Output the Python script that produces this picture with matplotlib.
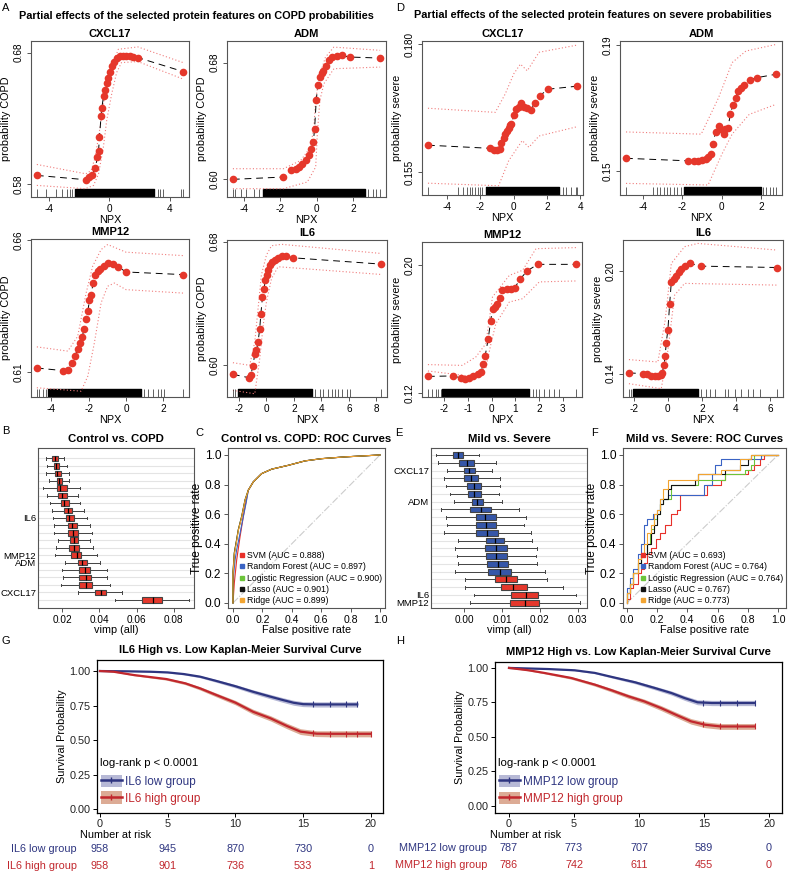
import numpy as np
import matplotlib
matplotlib.use("Agg")
import matplotlib.pyplot as plt
from matplotlib.lines import Line2D
from matplotlib.patches import Patch

plt.rcParams['font.family'] = ['Liberation Sans', 'DejaVu Sans']

W, H = 790, 872
RED = '#e5372b'
BLUE = '#3556a8'
NAVY = '#2e3580'
KMRED = '#c1272d'
GREY = '#555555'

# ---------------- A: partial effects on COPD ----------------
copd_cxcl17_x = [-4.8, -1.55, -1.33, -1.15, -0.93, -0.78, -0.71, -0.65, -0.54, -0.5, -0.37, -0.28, -0.15,
                 -0.06, 0.05, 0.2, 0.31, 0.49, 0.7, 0.92, 1.14, 1.36, 1.58, 1.9, 4.9]
copd_cxcl17_y = [0.5868, 0.5835, 0.5855, 0.5868, 0.5923, 0.6007, 0.6052, 0.6158, 0.6321, 0.6377, 0.6473,
                 0.6515, 0.6573, 0.6606, 0.6649, 0.6699, 0.6729, 0.6762, 0.6772, 0.6777, 0.6777, 0.6775,
                 0.677, 0.6762, 0.6656]
copd_cxcl17_ux = [-4.8, -1.55, -1.2, -0.93, -0.61, -0.28, 0.16, 0.6, 1.9, 4.9]
copd_cxcl17_uy = [0.5951, 0.588, 0.5905, 0.6007, 0.6233, 0.6485, 0.6687, 0.6825, 0.6843, 0.6724]
copd_cxcl17_lx = [-4.8, -1.59, -1.04, -0.71, -0.39, -0.17, 0.16, 0.49, 0.81, 1.9, 4.9]
copd_cxcl17_ly = [0.5792, 0.5767, 0.5792, 0.588, 0.6082, 0.6284, 0.6485, 0.6649, 0.6724, 0.6732, 0.6599]
copd_cxcl17_rug = [-4.8, -4.21, -3.55, -3.12, -2.79, -2.57, -2.46, 3.22, 3.39, 3.55, 4.75, 4.9]
copd_cxcl17_band = (-2.29, 3.0)

copd_adm_x = [-4.6, -1.82, -1.42, -1.15, -0.96, -0.78, -0.6, -0.42, -0.29, -0.18, -0.11, -0.02, 0.07, 0.18,
              0.27, 0.36, 0.49, 0.67, 0.85, 1.13, 1.4, 1.82, 3.49]
copd_adm_y = [0.600, 0.6016, 0.6062, 0.6073, 0.6085, 0.6107, 0.613, 0.6165, 0.621, 0.6256, 0.6347, 0.6542,
              0.6649, 0.6702, 0.6729, 0.6743, 0.6775, 0.6816, 0.6839, 0.6848, 0.685, 0.6839, 0.6832]
copd_adm_ux = [-4.6, -1.82, -0.87, -0.33, -0.15, -0.05, 0.13, 0.49, 0.95, 3.49]
copd_adm_uy = [0.6073, 0.6073, 0.613, 0.6222, 0.6359, 0.6542, 0.6702, 0.6839, 0.6907, 0.6885]
copd_adm_lx = [-4.6, -1.82, -0.51, -0.05, 0.04, 0.18, 0.4, 0.95, 3.49]
copd_adm_ly = [0.5936, 0.5936, 0.5982, 0.6085, 0.6313, 0.6542, 0.6656, 0.6759, 0.677]
copd_adm_rug = [-4.6, -4.5, -4.15, -3.9, -3.42, -3.15, 2.85, 3.09, 3.27, 3.49]
copd_adm_band = (-2.96, 2.67)

copd_mmp12_x = [-4.76, -3.37, -3.11, -2.9, -2.72, -2.58, -2.43, -2.36, -2.22, -2.13, -2.04, -1.95, -1.86,
                -1.76, -1.65, -1.51, -1.37, -1.19, -0.94, -0.71, -0.41, 0.0, 3.05]
copd_mmp12_y = [0.6116, 0.6106, 0.611, 0.6135, 0.6163, 0.6188, 0.6211, 0.6233, 0.6264, 0.63, 0.6331, 0.6373,
                0.6394, 0.6438, 0.647, 0.6485, 0.6491, 0.6502, 0.6514, 0.651, 0.6499, 0.648, 0.647]
copd_mmp12_ux = [-4.76, -3.11, -2.58, -2.13, -1.78, -1.33, -0.98, 0.0, 3.05]
copd_mmp12_uy = [0.6196, 0.618, 0.6236, 0.64, 0.6502, 0.6565, 0.6584, 0.6555, 0.6542]
copd_mmp12_lx = [-4.76, -2.4, -2.04, -1.69, -1.33, -0.98, -0.62, 0.0, 3.05]
copd_mmp12_ly = [0.6041, 0.6028, 0.6085, 0.6211, 0.6363, 0.6426, 0.6438, 0.6413, 0.64]
copd_mmp12_rug = [-4.76, -4.62, -4.44, -4.26, 0.98, 1.15, 1.42, 1.69, 1.87, 2.04, 3.05]
copd_mmp12_band = (-4.17, 0.8)

copd_il6_x = [-2.44, -1.29, -1.15, -0.98, -0.85, -0.73, -0.61, -0.49, -0.41, -0.29, -0.2, -0.07, 0.02, 0.12,
              0.27, 0.41, 0.61, 0.85, 1.1, 1.39, 1.9, 8.34]
copd_il6_y = [0.5942, 0.592, 0.5935, 0.5996, 0.6076, 0.6097, 0.6151, 0.6238, 0.6329, 0.6443, 0.6493, 0.6551,
              0.6584, 0.6616, 0.6649, 0.6666, 0.6681, 0.6696, 0.6705, 0.6709, 0.6696, 0.6655]
copd_il6_ux = [-2.44, -1.22, -0.85, -0.61, -0.37, 0.0, 0.37, 1.1, 8.34]
copd_il6_uy = [0.6017, 0.600, 0.6151, 0.6368, 0.6584, 0.6714, 0.6774, 0.6783, 0.6724]
copd_il6_lx = [-2.44, -0.85, -0.49, -0.24, 0.0, 0.37, 0.85, 8.34]
copd_il6_ly = [0.5838, 0.5816, 0.6043, 0.6259, 0.6411, 0.6562, 0.6638, 0.6588]
copd_il6_rug = [-2.44, -2.32, 3.54, 3.9, 4.15, 4.51, 4.76, 5.0, 5.24, 5.49, 5.85, 6.1, 8.34]
copd_il6_band = (-2.07, 3.29)

# ---------------- D: partial effects on severe ----------------
sev_cxcl17_x = [-5.15, -1.45, -1.21, -1.01, -0.85, -0.75, -0.61, -0.51, -0.4, -0.3, -0.2, -0.14, 0.02, 0.16,
                0.3, 0.44, 0.59, 0.77, 1.01, 1.27, 1.56, 2.04, 3.8]
sev_cxcl17_y = [0.1603, 0.1597, 0.1594, 0.1594, 0.1595, 0.1608, 0.1617, 0.1625, 0.1631, 0.1636, 0.1642, 0.1645,
                0.1662, 0.1673, 0.1678, 0.1686, 0.1678, 0.1675, 0.1672, 0.1686, 0.1699, 0.1712, 0.1718]
sev_cxcl17_ux = [-5.15, -1.11, -0.51, 0.0, 0.4, 0.81, 1.52, 3.8]
sev_cxcl17_uy = [0.1675, 0.1667, 0.1703, 0.1742, 0.1761, 0.1748, 0.1784, 0.1798]
sev_cxcl17_lx = [-5.15, -0.91, -0.3, 0.51, 0.91, 1.52, 3.8]
sev_cxcl17_ly = [0.1529, 0.1524, 0.1573, 0.1612, 0.1599, 0.1621, 0.1639]
sev_cxcl17_rug = [-5.15, -3.33, -3.03, -2.83, -2.63, -2.48, -2.32, -2.16, -2.02, -1.88, 2.93, 3.13, 3.43,
                  3.74, 3.8]
sev_cxcl17_band = (-1.68, 2.73)

sev_adm_x = [-4.87, -1.74, -1.44, -1.22, -1.01, -0.83, -0.7, -0.56, -0.47, -0.31, -0.17, -0.09, 0.09, 0.17,
             0.31, 0.43, 0.56, 0.7, 0.83, 0.96, 1.13, 1.43, 1.77, 2.75]
sev_adm_y = [0.154, 0.1532, 0.1532, 0.153, 0.1534, 0.1539, 0.1545, 0.1553, 0.1587, 0.1624, 0.1643, 0.1633,
             0.1619, 0.1633, 0.1638, 0.168, 0.171, 0.1733, 0.1755, 0.1763, 0.1774, 0.179, 0.1797, 0.1808]
sev_adm_ux = [-4.87, -1.05, -0.17, 0.52, 1.22, 2.75]
sev_adm_uy = [0.1624, 0.1617, 0.1733, 0.1845, 0.1882, 0.1903]
sev_adm_lx = [-4.87, -0.7, 0.0, 0.52, 1.39, 2.75]
sev_adm_ly = [0.146, 0.1455, 0.1553, 0.1617, 0.168, 0.1712]
sev_adm_rug = [-4.87, -3.48, -3.3, -3.13, -2.96, -2.78, -2.61, -2.43, -2.26, -2.09, 2.09, 2.26, 2.43, 2.61,
               2.75]
sev_adm_band = (-1.91, 2.0)

sev_mmp12_x = [-2.68, -1.61, -1.3, -1.13, -0.94, -0.77, -0.59, -0.45, -0.35, -0.27, -0.14, -0.04, 0.04, 0.15,
               0.25, 0.35, 0.46, 0.63, 0.82, 0.97, 1.2, 1.49, 1.94, 3.56]
sev_mmp12_y = [0.1304, 0.1307, 0.1294, 0.129, 0.1294, 0.1304, 0.1317, 0.1332, 0.1384, 0.1432, 0.154, 0.1649,
               0.1728, 0.1739, 0.1756, 0.1797, 0.1843, 0.185, 0.1854, 0.1858, 0.1912, 0.1964, 0.2006, 0.2006]
sev_mmp12_ux = [-2.68, -1.23, -0.66, -0.24, 0.04, 0.75, 1.31, 1.87, 3.56]
sev_mmp12_uy = [0.1378, 0.1373, 0.1426, 0.1509, 0.1802, 0.1937, 0.1969, 0.2104, 0.2111]
sev_mmp12_lx = [-2.68, -0.94, -0.24, -0.03, 0.18, 0.75, 1.31, 2.01, 3.56]
sev_mmp12_ly = [0.1338, 0.1306, 0.1358, 0.1505, 0.1634, 0.177, 0.1791, 0.1896, 0.1902]
sev_mmp12_rug = [-2.68, -2.49, -2.35, -2.24, -2.14, 1.73, 1.87, 2.01, 2.23, 2.44, 2.65, 2.86, 3.56]
sev_mmp12_band = (-2.07, 1.59)

sev_il6_x = [-2.29, -1.47, -1.22, -0.98, -0.78, -0.59, -0.43, -0.33, -0.24, -0.16, -0.1, 0.0, 0.1, 0.2, 0.35,
             0.49, 0.63, 0.78, 0.98, 1.27, 1.92, 6.41]
sev_il6_y = [0.1404, 0.14, 0.1396, 0.1386, 0.1384, 0.1384, 0.139, 0.1404, 0.1449, 0.1502, 0.158, 0.1658,
             0.1806, 0.1937, 0.1951, 0.1973, 0.1992, 0.201, 0.2029, 0.2045, 0.2029, 0.2021]
sev_il6_ux = [-2.29, -0.59, -0.16, 0.2, 0.98, 1.76, 6.41]
sev_il6_uy = [0.1482, 0.1468, 0.1713, 0.2045, 0.2143, 0.2162, 0.2123]
sev_il6_lx = [-2.29, -0.39, 0.0, 0.39, 0.98, 6.41]
sev_il6_ly = [0.1341, 0.1312, 0.1537, 0.1859, 0.1928, 0.1918]
sev_il6_rug = [-2.29, -2.16, 1.96, 2.25, 2.45, 2.75, 3.33, 3.53, 3.92, 4.31, 4.71, 5.0, 5.39, 6.41]
sev_il6_band = (-2.06, 1.76)

# ---------------- B / E: variable importance ----------------
b_wlo = [0.0112, 0.0118, 0.0114, 0.013, 0.010, 0.0118, 0.0136, 0.0148, 0.0154, 0.0159, 0.0159, 0.018, 0.0166,
         0.0162, 0.0216, 0.020, 0.0207, 0.0195, 0.0288, 0.0484]
b_q1 = [0.0148, 0.0157, 0.0162, 0.0171, 0.0175, 0.018, 0.0195, 0.0213, 0.022, 0.0234, 0.0234, 0.0243, 0.0239,
        0.0248, 0.0288, 0.0291, 0.0293, 0.0293, 0.0377, 0.0631]
b_med = [0.0162, 0.0168, 0.0175, 0.0186, 0.0189, 0.0198, 0.0213, 0.023, 0.0239, 0.0252, 0.0261, 0.0264, 0.0266,
         0.0279, 0.0309, 0.0323, 0.0329, 0.0329, 0.0407, 0.0686]
b_q3 = [0.0177, 0.0186, 0.0193, 0.020, 0.0225, 0.0225, 0.0239, 0.0255, 0.0264, 0.028, 0.0288, 0.0288, 0.0293,
        0.0302, 0.0336, 0.035, 0.0356, 0.0361, 0.0436, 0.0738]
b_whi = [0.0211, 0.0225, 0.0238, 0.0239, 0.0297, 0.0284, 0.0297, 0.0318, 0.0332, 0.035, 0.0363, 0.035, 0.0368,
         0.0389, 0.0404, 0.044, 0.0443, 0.0457, 0.0524, 0.0883]
b_labels = {9: 'IL6', 14: 'MMP12', 15: 'ADM', 19: 'CXCL17'}

e_wlo = [-0.0074, -0.0068, -0.0044, -0.0054, -0.0047, -0.0037, -0.0026, -0.0061, -0.0048, -0.0044, -0.0053,
         -0.0015, -0.0025, -0.0019, -0.0015, -0.0024, 0.0003, 0.0003, 0.0025, 0.0016]
e_q1 = [-0.003, -0.0012, 0.0, 0.0001, 0.0007, 0.0011, 0.002, 0.0017, 0.0031, 0.0032, 0.0032, 0.0057, 0.0055,
        0.0058, 0.0061, 0.0064, 0.0082, 0.0097, 0.0124, 0.0121]
e_med = [-0.0015, 0.0007, 0.0013, 0.0018, 0.0025, 0.0026, 0.0035, 0.0044, 0.0055, 0.0057, 0.0061, 0.0082,
         0.0083, 0.0084, 0.0089, 0.0096, 0.0111, 0.013, 0.0163, 0.0161]
e_q3 = [-0.0002, 0.0027, 0.0029, 0.0038, 0.0044, 0.0045, 0.0051, 0.007, 0.0084, 0.0083, 0.009, 0.0106, 0.0112,
        0.0112, 0.0115, 0.0125, 0.0139, 0.0165, 0.0196, 0.0198]
e_whi = [0.004, 0.0083, 0.0073, 0.0095, 0.0095, 0.0092, 0.0099, 0.0146, 0.0162, 0.0159, 0.0176, 0.018, 0.0191,
         0.0189, 0.0191, 0.0213, 0.0218, 0.026, 0.0296, 0.0305]
e_labels = {3: 'CXCL17', 7: 'ADM', 19: 'IL6', 20: 'MMP12'}
e_n_blue = 16

# ---------------- C / F: ROC curves ----------------
roc_models = ['SVM', 'Random Forest', 'Logistic Regression', 'Lasso', 'Ridge']
roc_colors = ['#e8302a', '#3a63c4', '#6cc43a', '#111111', '#f2a431']
c_auc = ['0.888', '0.897', '0.900', '0.901', '0.899']
f_auc = ['0.693', '0.764', '0.764', '0.767', '0.773']

c_tail_fpr = [0.104, 0.138, 0.195, 0.263, 0.376, 0.49, 0.603, 0.762, 0.875, 1.0]
c_tail_tpr = [0.762, 0.818, 0.874, 0.904, 0.93, 0.96, 0.975, 0.987, 0.993, 1.0]
c_head_fpr = [[0, 0.009, 0.025, 0.048, 0.07, 0.082],
              [0, 0.005, 0.014, 0.025, 0.048, 0.07, 0.09],
              [0, 0, 0.009, 0.025, 0.036, 0.059, 0.082],
              [0, 0, 0.009, 0.025, 0.036, 0.059, 0.082],
              [0, 0, 0.009, 0.025, 0.036, 0.059, 0.082]]
c_head_tpr = [[0, 0.135, 0.29, 0.448, 0.583, 0.65],
              [0, 0.2, 0.29, 0.36, 0.47, 0.583, 0.68],
              [0, 0.2, 0.336, 0.426, 0.493, 0.583, 0.695],
              [0, 0.21, 0.34, 0.43, 0.495, 0.585, 0.697],
              [0, 0.19, 0.33, 0.42, 0.49, 0.58, 0.694]]

f_fpr = [[0, 0, 0.02, 0.04, 0.07, 0.09, 0.11, 0.13, 0.16, 0.19, 0.22, 0.25, 0.29, 0.33, 0.35, 0.53, 0.62, 0.65,
          0.8, 0.84, 0.88, 0.91, 1.0],
         [0, 0, 0.02, 0.04, 0.07, 0.09, 0.11, 0.13, 0.17, 0.2, 0.22, 0.27, 0.49, 0.51, 0.56, 0.58, 0.62, 0.87,
          0.89, 1.0],
         [0, 0, 0.02, 0.04, 0.07, 0.09, 0.13, 0.15, 0.16, 0.18, 0.2, 0.22, 0.24, 0.29, 0.45, 0.47, 0.65, 0.78,
          0.82, 0.84, 1.0],
         [0, 0, 0.02, 0.04, 0.07, 0.09, 0.13, 0.16, 0.18, 0.2, 0.22, 0.24, 0.27, 0.29, 0.45, 0.47, 0.65, 0.75,
          0.8, 0.82, 1.0],
         [0, 0, 0.02, 0.04, 0.07, 0.09, 0.11, 0.13, 0.16, 0.18, 0.2, 0.22, 0.24, 0.27, 0.47, 0.62, 0.75, 0.82,
          1.0]]
f_tpr = [[0, 0.03, 0.1, 0.13, 0.2, 0.23, 0.27, 0.33, 0.37, 0.43, 0.47, 0.53, 0.6, 0.63, 0.73, 0.8, 0.83, 0.87,
          0.9, 0.93, 0.97, 1.0, 1.0],
         [0, 0.1, 0.17, 0.23, 0.33, 0.4, 0.53, 0.57, 0.6, 0.63, 0.7, 0.73, 0.73, 0.8, 0.87, 0.93, 0.97, 0.97,
          1.0, 1.0],
         [0, 0.07, 0.13, 0.2, 0.27, 0.33, 0.4, 0.47, 0.5, 0.57, 0.6, 0.67, 0.7, 0.8, 0.8, 0.83, 0.87, 0.9, 0.93,
          1.0, 1.0],
         [0, 0.07, 0.13, 0.2, 0.27, 0.33, 0.4, 0.47, 0.53, 0.6, 0.67, 0.7, 0.77, 0.8, 0.83, 0.87, 0.9, 0.93,
          0.97, 1.0, 1.0],
         [0, 0.07, 0.13, 0.2, 0.3, 0.33, 0.4, 0.47, 0.53, 0.6, 0.63, 0.7, 0.77, 0.83, 0.87, 0.9, 0.97, 1.0, 1.0]]

# ---------------- G / H: Kaplan-Meier ----------------
g_low_t = [0, 2, 3.7, 5, 6.2, 7.4, 8.6, 10, 11.3, 12.6, 13.5, 14.3, 15, 16, 17, 18, 19]
g_low_s = [1.0, 0.998, 0.995, 0.99, 0.978, 0.959, 0.928, 0.89, 0.85, 0.814, 0.79, 0.77, 0.76, 0.758, 0.758,
           0.758, 0.758]
g_low_ci = [0, 0.001, 0.003, 0.004, 0.006, 0.008, 0.01, 0.012, 0.014, 0.016, 0.017, 0.018, 0.018, 0.019, 0.019,
            0.019, 0.019]
g_high_t = [0, 1, 2.5, 4.9, 6.3, 7.4, 8.6, 10, 11.3, 12.6, 13.8, 14.8, 16, 17, 18, 19, 20]
g_high_s = [1.0, 0.995, 0.971, 0.942, 0.911, 0.874, 0.826, 0.771, 0.705, 0.657, 0.602, 0.561, 0.546, 0.545,
            0.545, 0.545, 0.545]
g_high_ci = [0, 0.002, 0.005, 0.008, 0.01, 0.012, 0.014, 0.016, 0.018, 0.019, 0.02, 0.021, 0.021, 0.022, 0.022,
             0.022, 0.022]
g_low_cens = [15.7, 17, 18.2, 19]
g_high_cens = [15.7, 17, 18.2, 19, 20]
g_risk_low = [958, 945, 870, 730, 0]
g_risk_high = [958, 901, 736, 533, 1]

h_low_t = [0, 3, 5.05, 6.6, 7.9, 9.7, 11.2, 12.5, 13.5, 14.5, 15.6, 17, 18.9]
h_low_s = [1.0, 0.992, 0.983, 0.964, 0.935, 0.896, 0.855, 0.818, 0.782, 0.751, 0.746, 0.746, 0.746]
h_low_ci = [0, 0.002, 0.004, 0.006, 0.008, 0.011, 0.013, 0.015, 0.017, 0.018, 0.019, 0.019, 0.019]
h_high_t = [0, 1.5, 2.7, 4.8, 6.6, 7.9, 9.2, 10.4, 11.7, 13, 14, 15.1, 16.3, 18.9]
h_high_s = [1.0, 0.983, 0.964, 0.927, 0.879, 0.838, 0.794, 0.758, 0.709, 0.654, 0.613, 0.588, 0.576, 0.576]
h_high_ci = [0, 0.004, 0.006, 0.009, 0.011, 0.013, 0.015, 0.016, 0.018, 0.019, 0.02, 0.021, 0.021, 0.021]
h_low_cens = [14.9, 16.2, 17.5, 18.9]
h_high_cens = [14.9, 16.2, 17.5, 18.9]
h_risk_low = [787, 773, 707, 589, 0]
h_risk_high = [786, 742, 611, 455, 0]
risk_times = [0, 5, 10, 15, 20]

fig = plt.figure(figsize=(W / 100, H / 100), dpi=100)


def axbox(x0, x1, y0, y1):
    return fig.add_axes([x0 / W, 1 - y1 / H, (x1 - x0) / W, (y1 - y0) / H])


def ftext(px, py, s, **kw):
    fig.text(px / W, 1 - py / H, s, **kw)


def grey_frame(ax):
    for sp in ax.spines.values():
        sp.set_color(GREY)
        sp.set_linewidth(0.8)
    ax.tick_params(color=GREY, length=3, width=0.7, labelsize=7.2, pad=2)


yt_labels = {
    'CXCL17probability COPD': ['0.58', '0.68'], 'ADMprobability COPD': ['0.60', '0.68'],
    'MMP12probability COPD': ['0.61', '0.66'], 'IL6probability COPD': ['0.60', '0.68'],
    'CXCL17probability severe': ['0.155', '0.180'], 'ADMprobability severe': ['0.15', '0.19'],
    'MMP12probability severe': ['0.12', '0.20'], 'IL6probability severe': ['0.14', '0.20'],
}


def partial(ax, title, x, y, ux, uy, lx, ly, rug, band, xt, yt, ylim, ylab):
    ax.plot(ux, uy, color='#f07c7c', lw=0.8, ls=(0, (1, 2)))
    ax.plot(lx, ly, color='#f07c7c', lw=0.8, ls=(0, (1, 2)))
    ax.plot(x, y, color='black', lw=0.7, ls=(0, (7, 5)))
    ax.plot(x, y, 'o', color=RED, ms=5.5, mew=0)
    trans = ax.get_xaxis_transform()
    ax.vlines(rug, 0, 0.05, transform=trans, color='#222222', lw=0.5)
    ax.broken_barh([(band[0], band[1] - band[0])], (0, 0.05), transform=trans, color='black')
    pad = 0.04 * (max(x) - min(x))
    ax.set_xlim(min(x) - pad, max(x) + pad)
    ax.set_ylim(*ylim)
    ax.set_xticks(xt)
    ax.set_xticklabels([str(v) for v in xt])
    ax.set_yticks(yt)
    ax.set_yticklabels(yt_labels[title + ylab], rotation=90, va='center')
    grey_frame(ax)
    ax.set_title(title, fontsize=8, fontweight='bold', pad=3)
    ax.set_xlabel('NPX', fontsize=7.8, labelpad=1)
    ax.set_ylabel(ylab, fontsize=7.8, labelpad=2)


pc = 'probability COPD'
ps = 'probability severe'
partial(axbox(31, 189, 41, 197), 'CXCL17', copd_cxcl17_x, copd_cxcl17_y, copd_cxcl17_ux, copd_cxcl17_uy,
        copd_cxcl17_lx, copd_cxcl17_ly, copd_cxcl17_rug, copd_cxcl17_band, [-4, 0, 4], [0.58, 0.68],
        (0.5704, 0.6888), pc)
partial(axbox(227, 386, 41, 197), 'ADM', copd_adm_x, copd_adm_y, copd_adm_ux, copd_adm_uy,
        copd_adm_lx, copd_adm_ly, copd_adm_rug, copd_adm_band, [-4, -2, 0, 2], [0.60, 0.68],
        (0.5879, 0.6949), pc)
partial(axbox(31, 189, 239, 397), 'MMP12', copd_mmp12_x, copd_mmp12_y, copd_mmp12_ux, copd_mmp12_uy,
        copd_mmp12_lx, copd_mmp12_ly, copd_mmp12_rug, copd_mmp12_band, [-4, -2, 0, 2], [0.61, 0.66],
        (0.6006, 0.6605), pc)
partial(axbox(227, 387, 240, 397), 'IL6', copd_il6_x, copd_il6_y, copd_il6_ux, copd_il6_uy,
        copd_il6_lx, copd_il6_ly, copd_il6_rug, copd_il6_band, [-2, 0, 2, 4, 6, 8], [0.60, 0.68],
        (0.5795, 0.6811), pc)
partial(axbox(422, 583, 41, 195), 'CXCL17', sev_cxcl17_x, sev_cxcl17_y, sev_cxcl17_ux, sev_cxcl17_uy,
        sev_cxcl17_lx, sev_cxcl17_ly, sev_cxcl17_rug, sev_cxcl17_band, [-4, -2, 0, 2, 4], [0.155, 0.180],
        (0.1506, 0.1806), ps)
partial(axbox(620, 782, 41, 195), 'ADM', sev_adm_x, sev_adm_y, sev_adm_ux, sev_adm_uy,
        sev_adm_lx, sev_adm_ly, sev_adm_rug, sev_adm_band, [-4, -2, 0, 2], [0.15, 0.19],
        (0.1423, 0.1914), ps)
partial(axbox(422, 582, 242, 397), 'MMP12', sev_mmp12_x, sev_mmp12_y, sev_mmp12_ux, sev_mmp12_uy,
        sev_mmp12_lx, sev_mmp12_ly, sev_mmp12_rug, sev_mmp12_band, [-2, -1, 0, 1, 2, 3], [0.12, 0.20],
        (0.1175, 0.2146), ps)
partial(axbox(623, 783, 240, 397), 'IL6', sev_il6_x, sev_il6_y, sev_il6_ux, sev_il6_uy,
        sev_il6_lx, sev_il6_ly, sev_il6_rug, sev_il6_band, [-2, 0, 2, 4, 6], [0.14, 0.20],
        (0.1263, 0.2182), ps)

ftext(196, 16, 'Partial effects of the selected protein features on COPD probabilities',
      ha='center', va='center', fontsize=7.8, fontweight='bold')
ftext(593, 15, 'Partial effects of the selected protein features on severe probabilities',
      ha='center', va='center', fontsize=7.8, fontweight='bold')


def vimp(ax, title, wlo, q1, med, q3, whi, colors, labels, xt, xtl, xlim, ylim):
    stats = [dict(whislo=a, q1=b, med=c, q3=d, whishi=e, fliers=[]) for a, b, c, d, e in
             zip(wlo, q1, med, q3, whi)]
    pos = np.arange(1, len(stats) + 1)
    bp = ax.bxp(stats, positions=pos, orientation='horizontal', widths=0.75, patch_artist=True,
                showfliers=False, capwidths=0.35,
                boxprops=dict(edgecolor='#444444', linewidth=0.8),
                medianprops=dict(color='black', linewidth=0.9),
                whiskerprops=dict(color='#444444', linewidth=0.7),
                capprops=dict(color='#444444', linewidth=0.7))
    for patch, c in zip(bp['boxes'], colors):
        patch.set_facecolor(c)
    ax.set_yticks(pos)
    ax.set_yticklabels([labels.get(int(p), '') for p in pos])
    ax.yaxis.grid(True, color='#e4e4e4', lw=0.8)
    ax.set_axisbelow(True)
    ax.set_ylim(*ylim)
    ax.set_xlim(*xlim)
    ax.set_xticks(xt)
    ax.set_xticklabels(xtl)
    grey_frame(ax)
    ax.tick_params(axis='y', length=0, labelsize=6.8, pad=1.2)
    ax.set_title(title, fontsize=8.2, fontweight='bold', pad=4)
    ax.set_xlabel('vimp (all)', fontsize=7.8, labelpad=0)


vimp(axbox(38, 194, 448, 608), 'Control vs. COPD', b_wlo, b_q1, b_med, b_q3, b_whi, [RED] * 20, b_labels,
     [0.02, 0.04, 0.06, 0.08], ['0.02', '0.04', '0.06', '0.08'], (0.0071, 0.0908), (21.1, -0.4))
vimp(axbox(431, 587, 448, 608), 'Mild vs. Severe', e_wlo, e_q1, e_med, e_q3, e_whi,
     [BLUE] * e_n_blue + [RED] * (20 - e_n_blue), e_labels,
     [0.0, 0.01, 0.02, 0.03], ['0.00', '0.01', '0.02', '0.03'], (-0.0087, 0.0324), (20.68, 0.1))


def roc(ax, title, fprs, tprs, aucs, step, xlim):
    ax.plot([0, 1], [0, 1], color='#cccccc', lw=0.8, ls='-.')
    for fx, fy, c in zip(fprs, tprs, roc_colors):
        ax.plot(fx, fy, color=c, lw=0.8, drawstyle='steps-post' if step else 'default')
    handles = [Line2D([], [], marker='s', ls='', color=c, ms=3.2) for c in roc_colors]
    labels = ['%s (AUC = %s)' % (m, a) for m, a in zip(roc_models, aucs)]
    ax.legend(handles, labels, loc='lower right', frameon=False, fontsize=6.3, handletextpad=0.1,
              handlelength=0.8, borderaxespad=0.15, labelspacing=0.25, borderpad=0.2)
    ax.set_xlim(*xlim)
    ax.set_ylim(-0.034, 1.047)
    ticks = [0, 0.2, 0.4, 0.6, 0.8, 1.0]
    ax.set_xticks(ticks)
    ax.set_yticks(ticks)
    ax.set_xticklabels(['%.1f' % t for t in ticks])
    ax.set_yticklabels(['%.1f' % t for t in ticks])
    grey_frame(ax)
    ax.tick_params(axis='y', labelsize=8.6)
    ax.tick_params(axis='x', labelsize=7.6)
    ax.set_title(title, fontsize=8.2, fontweight='bold', pad=4)
    ax.set_xlabel('False positive rate', fontsize=7.8, labelpad=0)
    ax.set_ylabel('True positive rate', fontsize=8.6, labelpad=1)


c_fprs = [h + c_tail_fpr for h in c_head_fpr]
c_tprs = [h + c_tail_tpr for h in c_head_tpr]
roc(axbox(228, 385, 448, 608), 'Control vs. COPD: ROC Curves', c_fprs, c_tprs, c_auc, False, (-0.034, 1.034))
roc(axbox(623, 786, 448, 608), 'Mild vs. Severe: ROC Curves', f_fpr, f_tpr, f_auc, True, (-0.026, 1.053))


def km(ax, title, name, lt, ls_, lci, ht, hs, hci, lcens, hcens, rlow, rhigh, xlim, ylim):
    band_low = '#b7b9d6'
    band_high = '#dcab95'
    ax.fill_between(lt, np.array(ls_) - np.array(lci), np.array(ls_) + np.array(lci), color=band_low, lw=0)
    ax.fill_between(ht, np.array(hs) - np.array(hci), np.array(hs) + np.array(hci), color=band_high, lw=0)
    ax.plot(lt, ls_, color=NAVY, lw=1.6)
    ax.plot(ht, hs, color=KMRED, lw=1.6)
    ax.plot(lcens, np.interp(lcens, lt, ls_), ls='', marker='|', ms=4, mew=0.8, color=NAVY)
    ax.plot(hcens, np.interp(hcens, ht, hs), ls='', marker='|', ms=4, mew=0.8, color=KMRED)
    ax.set_xlim(*xlim)
    ax.set_ylim(*ylim)
    ax.set_xticks(risk_times)
    ax.set_yticks([0, 0.25, 0.5, 0.75, 1.0])
    ax.set_yticklabels(['0.00', '0.25', '0.50', '0.75', '1.00'])
    for sp in ax.spines.values():
        sp.set_linewidth(0.9)
    ax.tick_params(length=3, width=0.7, labelsize=7.8, pad=1.5, labelcolor='#222222')
    ax.set_title(title, fontsize=8, fontweight='bold', pad=5)
    ax.set_ylabel('Survival Probability', fontsize=7.8, labelpad=2)
    ax.text(0.01, 0.33, 'log-rank p < 0.0001', transform=ax.transAxes, fontsize=8.2, va='center')
    h1 = (Patch(color=band_low, lw=0), Line2D([], [], color=NAVY, lw=1.8, marker='|', ms=5))
    h2 = (Patch(color=band_high, lw=0), Line2D([], [], color=KMRED, lw=1.8, marker='|', ms=5))
    leg = ax.legend([h1, h2], [name + ' low group', name + ' high group'], loc='lower left',
                    bbox_to_anchor=(0.0, 0.03), frameon=False, fontsize=8.5, handlelength=1.8,
                    handleheight=1.3, handletextpad=0.3, labelspacing=0.3, borderaxespad=0.1,
                    borderpad=0.2)
    for t, c in zip(leg.get_texts(), [NAVY, KMRED]):
        t.set_color(c)
    tr = ax.get_xaxis_transform()
    ax.text(-1.5, -0.145, 'Number at risk', transform=tr, fontsize=7.8, va='center', ha='left')
    ax.text(-1.7, -0.235, name + ' low group', transform=tr, fontsize=7.8, va='center', ha='right',
            color=NAVY)
    ax.text(-1.7, -0.345, name + ' high group', transform=tr, fontsize=7.8, va='center', ha='right',
            color=KMRED)
    for tt, a, b in zip(risk_times, rlow, rhigh):
        ax.text(tt, -0.235, str(a), transform=tr, fontsize=7.8, va='center', ha='center', color=NAVY)
        ax.text(tt, -0.345, str(b), transform=tr, fontsize=7.8, va='center', ha='center', color=KMRED)


km(axbox(97, 383, 660, 813), 'IL6 High vs. Low Kaplan-Meier Survival Curve', 'IL6',
   g_low_t, g_low_s, g_low_ci, g_high_t, g_high_s, g_high_ci, g_low_cens, g_high_cens,
   g_risk_low, g_risk_high, (-0.22, 20.9), (-0.029, 1.08))
km(axbox(495, 782, 662, 813), 'MMP12 High vs. Low Kaplan-Meier Survival Curve', 'MMP12',
   h_low_t, h_low_s, h_low_ci, h_high_t, h_high_s, h_high_ci, h_low_cens, h_high_cens,
   h_risk_low, h_risk_high, (-1.08, 21.0), (-0.051, 1.043))

for letter, px, py in [('A', 6, 8), ('D', 400, 8), ('B', 6, 431), ('C', 199, 433), ('E', 399, 433),
                       ('F', 594, 433), ('G', 6, 641), ('H', 400, 641)]:
    ftext(px, py, letter, ha='center', va='center', fontsize=8)

fig.savefig('out.png', dpi=100)
